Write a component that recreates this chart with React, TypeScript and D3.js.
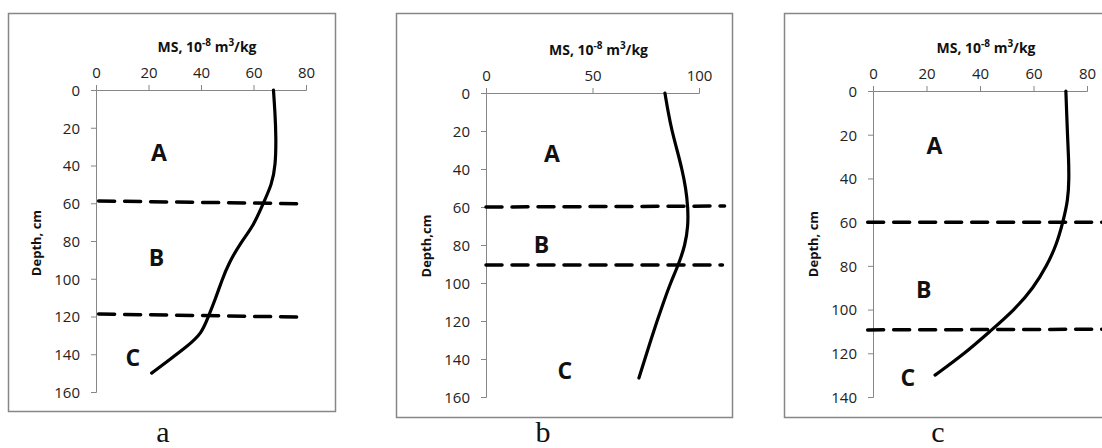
import React, { useEffect, useRef } from "react";
import * as d3 from "d3";

// MS profiles: depth (cm) and MS (10^-8 m3/kg)
const depthA = [0, 12, 25, 40, 50, 60, 72, 81, 92, 101, 111, 120, 129, 136, 144, 150];
const msA = [67.6, 68.2, 68.6, 68.4, 67, 63.7, 60, 55, 50.5, 47.9, 45.4, 42.8, 40.3, 34.6, 26.9, 21.2];

const depthB = [0, 10, 20, 30, 40, 50, 60, 70, 80, 90, 100, 110, 120, 130, 140, 150];
const msB = [84, 85.5, 87.3, 89.7, 92, 93.8, 94.8, 94.9, 93.5, 90.5, 86.6, 83.4, 80.3, 77.4, 74.6, 71.8];

const depthC = [0, 10, 20, 30, 40, 50, 60, 70, 80, 90, 100, 110, 120, 130];
const msC = [72.1, 72.4, 72.7, 73.1, 73.3, 72.9, 71, 68.7, 65, 60, 53, 43.7, 34.4, 23.2];

// horizon boundaries: [x start, depth start, x end, depth end]
const boundsA = [[1, 58.8, 80, 60.3], [1, 118.7, 78, 120.3]];
const boundsB = [[0, 60, 112, 59.5], [0, 90.5, 111, 90.5]];
const boundsC = [[-2, 60, 90, 60], [-2, 109.3, 90, 109]];

// horizon letters: [label, x value, depth]
const lettersA = [["A", 24, 33], ["B", 23, 89], ["C", 14, 142]];
const lettersB = [["A", 31, 32], ["B", 26, 80], ["C", 37, 146]];
const lettersC = [["A", 23, 25], ["B", 19, 91], ["C", 13, 131]];

const xTicksA = [0, 20, 40, 60, 80];
const xTicksB = [0, 50, 100];
const xTicksC = [0, 20, 40, 60, 80];
const yTicksA = [0, 20, 40, 60, 80, 100, 120, 140, 160];
const yTicksB = [0, 20, 40, 60, 80, 100, 120, 140, 160];
const yTicksC = [0, 20, 40, 60, 80, 100, 120, 140];

const panels = [
  { cap: "a", frame: [8, 13, 335, 411], plot: [96, 90, 306, 392], xMax: 80, yMax: 160, depthLabel: "Depth, cm",
    depth: depthA, ms: msA, bounds: boundsA, letters: lettersA, xTicks: xTicksA, yTicks: yTicksA, capX: 163 },
  { cap: "b", frame: [396, 13, 732, 417], plot: [486, 93, 699, 397], xMax: 100, yMax: 160, depthLabel: "Depth,cm",
    depth: depthB, ms: msB, bounds: boundsB, letters: lettersB, xTicks: xTicksB, yTicks: yTicksB, capX: 543 },
  { cap: "c", frame: [784, 13, 1110, 417], plot: [873, 91, 1087, 397], xMax: 80, yMax: 140, depthLabel: "Depth, cm",
    depth: depthC, ms: msC, bounds: boundsC, letters: lettersC, xTicks: xTicksC, yTicks: yTicksC, capX: 938 },
];

const grey = "#868686";
const font = "'Open Sans', sans-serif";

const App = () => {
  const ref = useRef<SVGSVGElement>(null);

  useEffect(() => {
    const svg = d3.select(ref.current);
    svg.selectAll("*").remove();

    panels.forEach(p => {
      const g = svg.append("g");
      const [fx0, fy0, fx1, fy1] = p.frame;
      const [px0, py0, px1, py1] = p.plot;

      g.append("rect")
        .attr("x", fx0 + 0.5).attr("y", fy0 + 0.5)
        .attr("width", fx1 - fx0).attr("height", fy1 - fy0)
        .attr("fill", "white").attr("stroke", grey).attr("stroke-width", 1.5);

      const x = d3.scaleLinear().domain([0, p.xMax]).range([px0, px1]);
      const y = d3.scaleLinear().domain([0, p.yMax]).range([py0, py1]);

      // axes
      const xAxis = g.append("g")
        .attr("transform", `translate(0,${py0})`)
        .call(d3.axisTop(x).tickValues(p.xTicks).tickSize(5).tickPadding(7));
      const yAxis = g.append("g")
        .attr("transform", `translate(${px0},0)`)
        .call(d3.axisLeft(y).tickValues(p.yTicks).tickSize(5).tickPadding(11));
      [xAxis, yAxis].forEach(a => {
        a.select(".domain").attr("stroke", grey);
        a.selectAll(".tick line").attr("stroke", grey);
        a.selectAll("text")
          .attr("fill", "#222")
          .style("font-family", font)
          .style("font-size", "15px");
      });
      yAxis.selectAll("text").attr("dy", "0.36em");

      // x title
      const t = g.append("text")
        .attr("x", (px0 + px1) / 2 + 6).attr("y", py0 - 38)
        .attr("text-anchor", "middle")
        .style("font-family", font).style("font-size", "14px").style("font-weight", "bold")
        .attr("fill", "#111");
      t.append("tspan").text("MS, 10");
      t.append("tspan").text("-8").attr("dy", -6).style("font-size", "10px");
      t.append("tspan").text(" m").attr("dy", 6);
      t.append("tspan").text("3").attr("dy", -6).style("font-size", "10px");
      t.append("tspan").text("/kg").attr("dy", 6);

      // y title
      g.append("text")
        .attr("transform", `translate(${px0 - 55},${py0 + 153}) rotate(-90)`)
        .attr("text-anchor", "middle")
        .style("font-family", font).style("font-size", "13px").style("font-weight", "bold")
        .attr("fill", "#111")
        .text(p.depthLabel);

      // boundaries
      p.bounds.forEach(b => {
        g.append("line")
          .attr("x1", x(b[0])).attr("y1", y(b[1]))
          .attr("x2", Math.min(x(b[2]), fx1 - 1)).attr("y2", y(b[3]))
          .attr("stroke", "black").attr("stroke-width", 3.5)
          .attr("stroke-dasharray", "16 10").attr("stroke-linecap", "round");
      });

      // profile curve
      const pts = p.depth.map((d, i) => [p.ms[i], d]);
      const line = d3.line<number[]>()
        .x(d => x(d[0]))
        .y(d => y(d[1]))
        .curve(d3.curveBasis);
      g.append("path")
        .attr("d", line(pts))
        .attr("fill", "none").attr("stroke", "black")
        .attr("stroke-width", 3.2).attr("stroke-linecap", "round");

      // horizon letters
      p.letters.forEach(l => {
        g.append("text")
          .attr("x", x(+l[1])).attr("y", y(+l[2]))
          .attr("text-anchor", "middle").attr("dy", "0.36em")
          .style("font-family", font).style("font-size", "23px").style("font-weight", "bold")
          .attr("fill", "#111")
          .text(l[0]);
      });

      // caption
      g.append("text")
        .attr("x", p.capX).attr("y", 442)
        .attr("text-anchor", "middle")
        .style("font-family", "'Liberation Serif', serif").style("font-size", "30px")
        .attr("fill", "#111")
        .text(p.cap);
    });
  }, []);

  return (
    <svg ref={ref} width={1102} height={448}
      style={{ position: "absolute", left: 0, top: 0, background: "white" }} />
  );
};

export default App;
